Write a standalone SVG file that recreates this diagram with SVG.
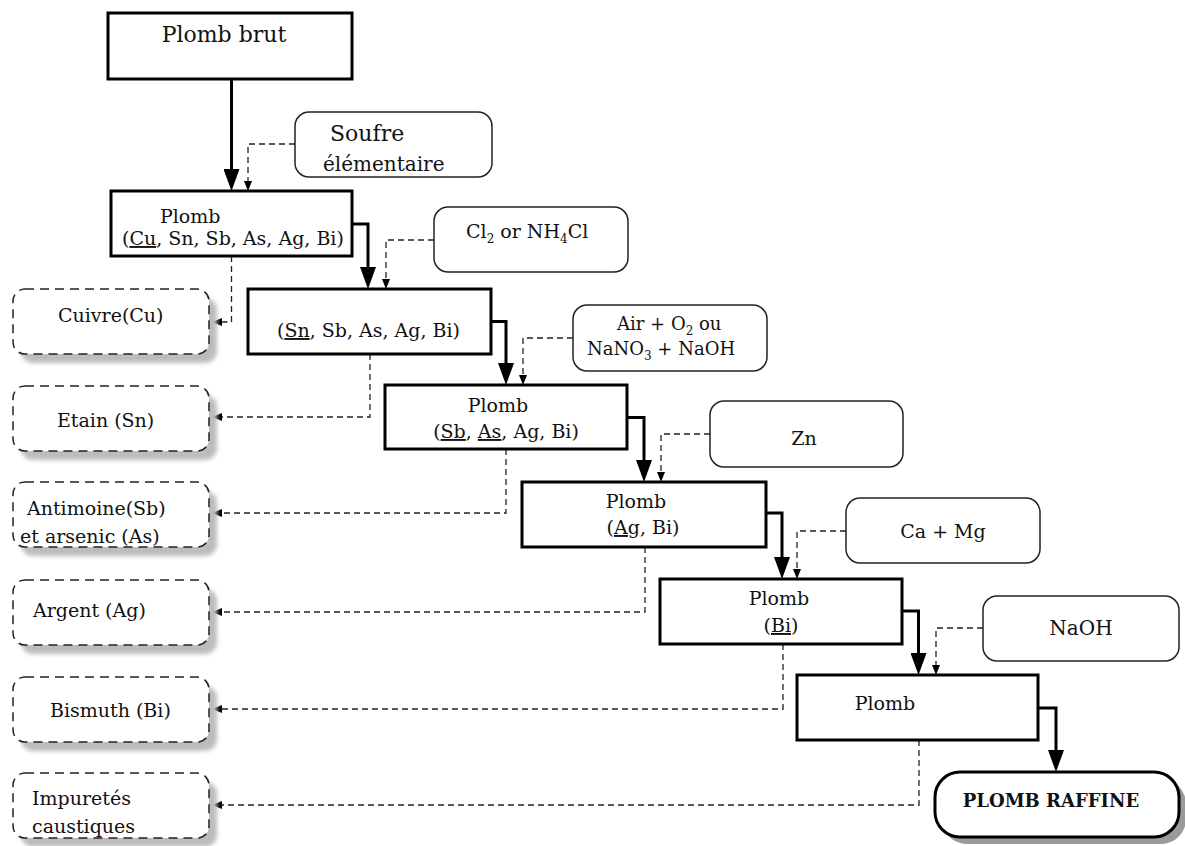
<svg xmlns="http://www.w3.org/2000/svg" width="1185" height="846" viewBox="0 0 1185 846">
  <style>
    text { font-family: "DejaVu Serif", "Liberation Serif", serif; font-size: 19px; fill: #111; }
    .main { fill: #fff; stroke: #000; stroke-width: 3; }
    .reagent { fill: #fff; stroke: #222; stroke-width: 1.5; }
    .waste { fill: #fff; stroke: #222; stroke-width: 1.5; stroke-dasharray: 9 6; }
    .shadow { fill: #bcbcbc; filter: url(#soft); }
    .flow { fill: none; stroke: #000; stroke-width: 3; }
    .dash { fill: none; stroke: #222; stroke-width: 1.3; stroke-dasharray: 6 4; }
    .u { text-decoration: underline; }
    .sub { font-size: 12px; }
  </style>
  <defs>
    <filter id="soft" x="-10%" y="-10%" width="120%" height="130%">
      <feGaussianBlur stdDeviation="2"/>
    </filter>
    <marker id="bigArrow" viewBox="0 0 22 16" refX="5" refY="8" markerWidth="22" markerHeight="16" markerUnits="userSpaceOnUse" orient="auto">
      <path d="M0,0 L22,8 L0,16 Z" fill="#000"/>
    </marker>
    <marker id="smallArrow" viewBox="0 0 10 8" refX="2" refY="4" markerWidth="10" markerHeight="8" markerUnits="userSpaceOnUse" orient="auto">
      <path d="M0,0 L10,4 L0,8 Z" fill="#000"/>
    </marker>
  </defs>

  <rect width="1185" height="846" fill="#fff"/>

  <!-- connectors -->
  <g id="connectors">
    <!-- main refining flow -->
    <path class="flow" d="M231.5,79 V174" marker-end="url(#bigArrow)"/>
    <path class="flow" d="M352,224 H368 V272" marker-end="url(#bigArrow)"/>
    <path class="flow" d="M491,321.5 H506 V368" marker-end="url(#bigArrow)"/>
    <path class="flow" d="M627,417.5 H644 V465" marker-end="url(#bigArrow)"/>
    <path class="flow" d="M766,513 H782 V562" marker-end="url(#bigArrow)"/>
    <path class="flow" d="M902,611 H918.5 V658" marker-end="url(#bigArrow)"/>
    <path class="flow" d="M1038,708 H1056 V755" marker-end="url(#bigArrow)"/>
    <!-- reagent additions -->
    <path class="dash" d="M295,144 H248 V183" marker-end="url(#smallArrow)"/>
    <path class="dash" d="M434,240 H386 V281" marker-end="url(#smallArrow)"/>
    <path class="dash" d="M573,338 H523 V377" marker-end="url(#smallArrow)"/>
    <path class="dash" d="M710,434 H661 V474" marker-end="url(#smallArrow)"/>
    <path class="dash" d="M846,531 H797 V571" marker-end="url(#smallArrow)"/>
    <path class="dash" d="M983,628 H936 V667" marker-end="url(#smallArrow)"/>
    <!-- removed by-products -->
    <path class="dash" d="M231.5,256 V322 H220" marker-end="url(#smallArrow)"/>
    <path class="dash" d="M370,354 V417 H220" marker-end="url(#smallArrow)"/>
    <path class="dash" d="M506,449 V513 H220" marker-end="url(#smallArrow)"/>
    <path class="dash" d="M645,547 V612 H220" marker-end="url(#smallArrow)"/>
    <path class="dash" d="M783,644 V709 H220" marker-end="url(#smallArrow)"/>
    <path class="dash" d="M919,740 V805 H220" marker-end="url(#smallArrow)"/>
  </g>

  <!-- main stages -->
  <g id="plomb-brut">
    <rect class="main" x="108" y="13" width="244" height="66"/>
    <text x="224" y="42" text-anchor="middle" style="font-size:22px">Plomb brut</text>
  </g>
  <g id="plomb-cu">
    <rect class="main" x="111" y="191" width="241" height="65"/>
    <text x="160" y="223">Plomb</text>
    <text x="122" y="245">(<tspan class="u">Cu</tspan>, Sn, Sb, As, Ag, Bi)</text>
  </g>
  <g id="plomb-sn">
    <rect class="main" x="248" y="289" width="243" height="65"/>
    <text x="277" y="337">(<tspan class="u">Sn</tspan>, Sb, As, Ag, Bi)</text>
  </g>
  <g id="plomb-sb-as">
    <rect class="main" x="385" y="385" width="242" height="64"/>
    <text x="498" y="412" text-anchor="middle">Plomb</text>
    <text x="506" y="438" text-anchor="middle">(<tspan class="u">Sb</tspan>, <tspan class="u">As</tspan>, Ag, Bi)</text>
  </g>
  <g id="plomb-ag">
    <rect class="main" x="522" y="482" width="244" height="65"/>
    <text x="636" y="508" text-anchor="middle">Plomb</text>
    <text x="643" y="534" text-anchor="middle">(<tspan class="u">Ag</tspan>, Bi)</text>
  </g>
  <g id="plomb-bi">
    <rect class="main" x="660" y="579" width="242" height="65"/>
    <text x="779" y="605" text-anchor="middle">Plomb</text>
    <text x="781" y="632" text-anchor="middle">(<tspan class="u">Bi</tspan>)</text>
  </g>
  <g id="plomb-final">
    <rect class="main" x="797" y="675" width="241" height="65"/>
    <text x="885" y="710" text-anchor="middle">Plomb</text>
  </g>
  <g id="plomb-raffine">
    <rect x="942" y="779" width="244" height="65" rx="25" fill="#9a9a9a"/>
    <rect class="main" x="935" y="772" width="244" height="65" rx="25"/>
    <text x="1051" y="807" text-anchor="middle" style="font-weight:bold;font-size:18px">PLOMB RAFFINE</text>
  </g>

  <!-- reagents -->
  <g id="soufre">
    <rect class="reagent" x="295" y="112" width="197" height="65" rx="14"/>
    <text x="330" y="141" style="font-size:22px">Soufre</text>
    <text x="323" y="171" style="font-size:20px">élémentaire</text>
  </g>
  <g id="chlore">
    <rect class="reagent" x="434" y="207" width="194" height="65" rx="14"/>
    <text x="466" y="238">Cl<tspan class="sub" dy="5">2</tspan><tspan dy="-5"> or NH</tspan><tspan class="sub" dy="5">4</tspan><tspan dy="-5">Cl</tspan></text>
  </g>
  <g id="oxydation">
    <rect class="reagent" x="573" y="305" width="194" height="66" rx="14"/>
    <text x="617" y="330" style="font-size:18px">Air + O<tspan class="sub" dy="5">2</tspan><tspan dy="-5">  ou</tspan></text>
    <text x="587" y="355" style="font-size:18px">NaNO<tspan class="sub" dy="5">3</tspan><tspan dy="-5"> + NaOH</tspan></text>
  </g>
  <g id="zinc">
    <rect class="reagent" x="710" y="401" width="193" height="66" rx="14"/>
    <text x="804" y="445" text-anchor="middle">Zn</text>
  </g>
  <g id="calcium-magnesium">
    <rect class="reagent" x="846" y="498" width="194" height="65" rx="14"/>
    <text x="943" y="538" text-anchor="middle">Ca + Mg</text>
  </g>
  <g id="soude">
    <rect class="reagent" x="983" y="596" width="196" height="65" rx="14"/>
    <text x="1081" y="635" text-anchor="middle" style="font-size:20px">NaOH</text>
  </g>

  <!-- by-products -->
  <g id="cuivre">
    <rect class="shadow" x="21" y="298" width="196" height="65" rx="12"/>
    <rect class="waste" x="13" y="289" width="196" height="65" rx="12"/>
    <text x="58" y="322">Cuivre(Cu)</text>
  </g>
  <g id="etain">
    <rect class="shadow" x="21" y="395" width="196" height="65" rx="12"/>
    <rect class="waste" x="13" y="386" width="196" height="65" rx="12"/>
    <text x="57" y="427">Etain (Sn)</text>
  </g>
  <g id="antimoine-arsenic">
    <rect class="shadow" x="21" y="491" width="196" height="65" rx="12"/>
    <rect class="waste" x="13" y="482" width="196" height="65" rx="12"/>
    <text x="27" y="515">Antimoine(Sb)</text>
    <text x="20" y="543">et arsenic (As)</text>
  </g>
  <g id="argent">
    <rect class="shadow" x="21" y="589" width="196" height="65" rx="12"/>
    <rect class="waste" x="13" y="580" width="196" height="65" rx="12"/>
    <text x="33" y="617">Argent (Ag)</text>
  </g>
  <g id="bismuth">
    <rect class="shadow" x="21" y="686" width="196" height="65" rx="12"/>
    <rect class="waste" x="13" y="677" width="196" height="65" rx="12"/>
    <text x="50" y="717">Bismuth (Bi)</text>
  </g>
  <g id="impuretes">
    <rect class="shadow" x="21" y="782" width="196" height="65" rx="12"/>
    <rect class="waste" x="13" y="773" width="196" height="65" rx="12"/>
    <text x="32" y="805">Impuretés</text>
    <text x="32" y="833">caustiques</text>
  </g>
</svg>
